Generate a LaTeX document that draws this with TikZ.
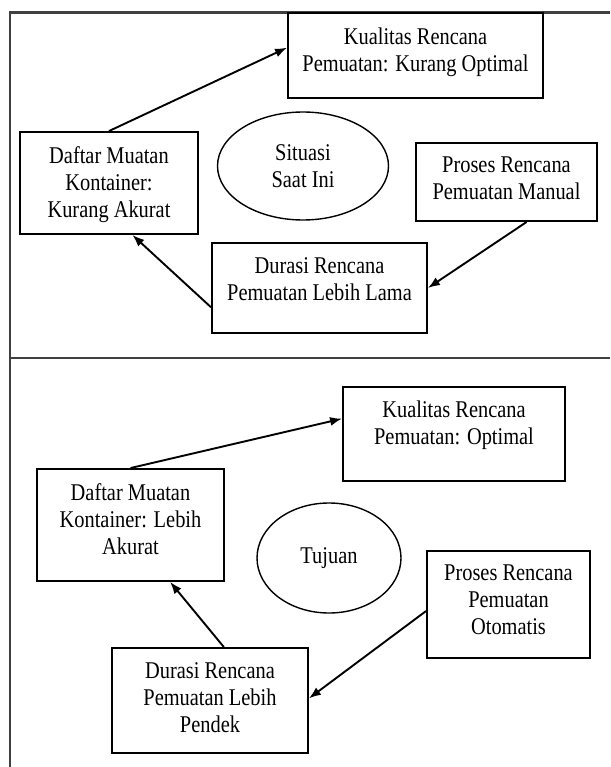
\documentclass[tikz,border=0pt]{standalone}
\usepackage{fontspec}
\setmainfont{Liberation Serif}[FakeStretch=0.85]
\usetikzlibrary{shapes.geometric,arrows.meta,calc,positioning}

\begin{document}
\begin{tikzpicture}[x=1pt,y=-1pt,
    kotak/.style={draw,line width=1.9pt,inner sep=0pt},
    teks/.style={anchor=north,align=center,inner sep=0pt,font=\fontsize{24}{27}\selectfont},
    elips/.style={draw,ellipse,line width=1.4pt,inner sep=0pt,align=center,font=\fontsize{24}{27}\selectfont},
    panah/.style={-{Latex[length=12pt,width=9pt]},line width=1.9pt},
    bingkai/.style={line width=2.3pt,color=black!75}]

      \useasboundingbox (0,0) rectangle (610,767);

      % draw the frame of the two panels
      \draw [bingkai] (610,12.5) -- (10,12.5) -- (10,767);
      \draw [bingkai] (10,358) -- (610,358);

      % draw the boxes (name/x/y/width/height)
      \def\kotakList{
        kualA/415.5/55.5/255/85,
        daftA/109/183/178/102,
        prosA/506.5/182/181/78,
        durA/319.5/288/215/90,
        kualB/454/434/222/94,
        daftB/130.5/525/187/112,
        prosB/508.5/604.5/163/107,
        durB/210/700.5/196/105
      }
      \foreach \nama/\cx/\cy/\w/\h in \kotakList
        \node [kotak, minimum width=\w pt, minimum height=\h pt] (\nama) at (\cx,\cy) {};

      % the texts sit at the top of each box
      \def\jarak{15}
      \node [teks] (kualAteks) at ($(kualA.north)+(0,\jarak+1)$) {Kualitas Rencana\\Pemuatan: Kurang Optimal};
      \node [teks] (daftAteks) at ($(daftA.north)+(0,\jarak)$) {Daftar Muatan\\Kontainer:\\Kurang Akurat};
      \node [teks] (prosAteks) at ($(prosA.north)+(0,\jarak)$) {Proses Rencana\\Pemuatan Manual};
      \node [teks] (durAteks) at ($(durA.north)+(0,\jarak)$) {Durasi Rencana\\Pemuatan Lebih Lama};
      \node [teks] (kualBteks) at ($(kualB.north)+(0,\jarak)$) {Kualitas Rencana\\Pemuatan: Optimal};
      \node [teks] (daftBteks) at ($(daftB.north)+(0,\jarak)$) {Daftar Muatan\\Kontainer: Lebih\\Akurat};
      \node [teks] (prosBteks) at ($(prosB.north)+(0,\jarak)$) {Proses Rencana\\Pemuatan\\Otomatis};
      \node [teks] (durBteks) at ($(durB.north)+(0,\jarak)$) {Durasi Rencana\\Pemuatan Lebih\\Pendek};

      % draw the two ellipses
      \node [elips, minimum width=171pt, minimum height=108pt] (ellA) at (303,166) {Situasi\\Saat Ini};
      \node [elips, minimum width=144pt, minimum height=110pt] (ellB) at (329,558) {Tujuan};

      % draw the arrows of the cycle
      \draw [panah] (daftA.north) -- ($(kualA.north west)!0.41!(kualA.south west)$);
      \draw [panah] ($(prosA.south west)!0.61!(prosA.south east)$) -- (durA.east);
      \draw [panah] ($(durA.north west)!0.71!(durA.south west)$) -- ($(daftA.south west)!0.63!(daftA.south east)$);

      \draw [panah] (daftB.north) -- ($(kualB.north west)!0.34!(kualB.south west)$);
      \draw [panah] ($(prosB.north west)!0.56!(prosB.south west)$) -- ($(durB.north east)!0.48!(durB.south east)$);
      \draw [panah] ($(durB.north west)!0.57!(durB.north east)$) -- ($(daftB.south west)!0.71!(daftB.south east)$);

\end{tikzpicture}
\end{document}
